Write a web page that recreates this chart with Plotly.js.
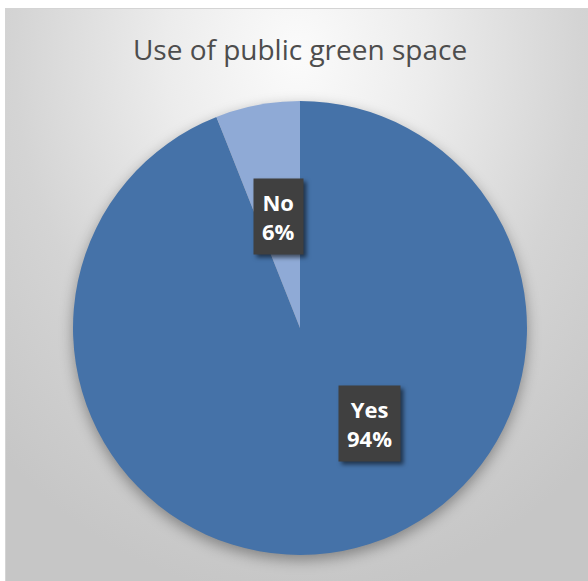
<!DOCTYPE html>
<html>
<head>
<meta charset="utf-8">
<script src="https://cdn.plot.ly/plotly-3.0.1.min.js"></script>
<style>
  html, body { margin: 0; padding: 0; background: #ffffff; }
  #frame {
    position: absolute; left: 5px; top: 8px; width: 582px; height: 572px;
    border: 1px solid #d4d4d4; border-right: none; border-bottom: none;
    background: radial-gradient(ellipse 75% 95% at 50% 8%, #fbfbfb 0%, #ececec 30%, #d4d4d4 65%, #c6c6c6 100%);
  }
  #chart { position: absolute; left: 0; top: 0; width: 588px; height: 581px; }
  .pielayer .trace { filter: drop-shadow(0px 5px 7px rgba(0,0,0,0.35)); }
  .annotation rect.bg { filter: drop-shadow(3px 3px 2px rgba(0,0,0,0.55)); }
</style>
</head>
<body>
<div id="frame"></div>
<div id="chart"></div>
<script>
// ---- data ----
const chartTitle = "Use of public green space";
const categories = ["Yes", "No"];
const values = [94, 6];
const sliceColors = ["#4572a8", "#8faad6"];

// ---- label styling (not data) ----
const labelRadius = { Yes: 0.52, No: 0.50 };
const labelAngleShift = { Yes: -25, No: 0 };

const total = values.reduce((a, b) => a + b, 0);
let cum = 0;
const annotations = categories.map((c, i) => {
  const start = cum / total * 360;
  cum += values[i];
  const end = cum / total * 360;
  const ang = ((start + end) / 2 + labelAngleShift[c]) * Math.PI / 180;
  const r = labelRadius[c] * 0.5;
  return {
    xref: "paper", yref: "paper",
    x: 0.5 + r * Math.sin(ang),
    y: 0.5 + r * Math.cos(ang),
    xanchor: "center", yanchor: "middle",
    text: "<b>" + c + "</b><br><b>" + Math.round(values[i] / total * 100) + "%</b>",
    showarrow: false,
    font: { family: "Open Sans", size: 22, color: "#ffffff" },
    bgcolor: "#404040",
    borderpad: 8,
    align: "center"
  };
});

const trace = {
  type: "pie",
  labels: categories,
  values: values,
  sort: false,
  direction: "clockwise",
  rotation: 0,
  marker: { colors: sliceColors, line: { width: 0 } },
  textinfo: "none",
  hoverinfo: "none",
  showlegend: false
};

const layout = {
  width: 588, height: 581,
  margin: { l: 73, r: 61, t: 101, b: 26 },
  paper_bgcolor: "rgba(0,0,0,0)",
  plot_bgcolor: "rgba(0,0,0,0)",
  title: {
    text: chartTitle,
    font: { family: "Open Sans", size: 28, color: "#4d4d4d" },
    x: 0.5, xref: "paper", xanchor: "center",
    y: 1 - 50 / 581, yref: "container", yanchor: "middle"
  },
  annotations: annotations,
  showlegend: false
};

Plotly.newPlot("chart", [trace], layout, { displayModeBar: false, staticPlot: true });
</script>
</body>
</html>
